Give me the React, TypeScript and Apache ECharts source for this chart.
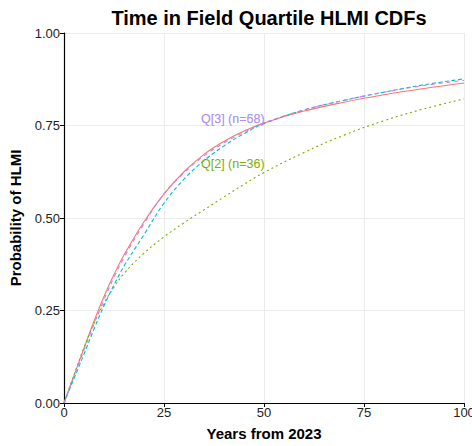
import React, { useEffect, useRef } from "react";
import * as echarts from "echarts";

const years = [0, 2.5, 5, 7.5, 10, 12.5, 15, 20, 25, 30, 35, 40, 45, 50, 60, 70, 80, 90, 100];
const q1 = [0, 0.074, 0.148, 0.221, 0.288, 0.347, 0.4, 0.49, 0.565, 0.625, 0.672, 0.707, 0.735, 0.757, 0.789, 0.813, 0.833, 0.85, 0.865];
const q2 = [0, 0.076, 0.15, 0.215, 0.27, 0.313, 0.35, 0.405, 0.449, 0.487, 0.522, 0.557, 0.591, 0.623, 0.677, 0.724, 0.763, 0.795, 0.822];
const q3 = [0, 0.066, 0.132, 0.2, 0.263, 0.319, 0.37, 0.455, 0.54, 0.605, 0.655, 0.695, 0.728, 0.755, 0.792, 0.818, 0.84, 0.86, 0.876];
const q4 = [0, 0.072, 0.143, 0.213, 0.28, 0.34, 0.393, 0.485, 0.565, 0.622, 0.668, 0.703, 0.732, 0.757, 0.792, 0.818, 0.84, 0.858, 0.872];

const xTicks = [0, 25, 50, 75, 100];
const labelTexts = ["Q[3] (n=58)", "Q[3] (n=68)", "Q[2] (n=36)"];
const labelPos: [number, number][] = [[42.2, 0.768], [42.2, 0.768], [42.2, 0.646]];

const colors = ["#F8766D", "#7CAE00", "#00BFC4", "#C77CFF"];
const FONT = "Liberation Sans, Arial, Helvetica, sans-serif";

export default function App() {
  const ref = useRef<HTMLDivElement>(null);
  useEffect(() => {
    document.body.style.margin = "0";
    const chart = echarts.init(ref.current!, null, { renderer: "svg" });
    const mk = (v: number[]) => years.map((x, i) => [x, v[i]]);
    const lineSeries = (name: string, v: number[], color: string, type: any) => ({
      name,
      type: "line",
      data: mk(v),
      smooth: 0.4,
      showSymbol: false,
      symbol: "none",
      lineStyle: { color, width: 1.1, type },
      z: 3,
    });
    const labelSeries = (i: number, color: string, opacity: number) => ({
      type: "scatter",
      data: [labelPos[i]],
      symbolSize: 0,
      silent: true,
      z: 5,
      label: {
        show: true,
        position: "inside",
        formatter: labelTexts[i],
        color,
        opacity,
        fontSize: 12.5,
        fontFamily: FONT,
      },
    });
    chart.setOption({
      animation: false,
      title: {
        text: "Time in Field Quartile HLMI CDFs",
        left: 264,
        textAlign: "center",
        top: 3,
        textStyle: { fontSize: 20, fontWeight: "bold", color: "#000", fontFamily: FONT },
      },
      grid: { left: 64, right: 8, top: 33, bottom: 43, containLabel: false, outerBoundsMode: "none" },
      xAxis: {
        type: "value",
        min: 0,
        max: 100,
        interval: 25,
        name: "Years from 2023",
        nameLocation: "middle",
        nameGap: 23,
        nameTextStyle: { fontSize: 15, fontWeight: "bold", color: "#000", fontFamily: FONT },
        axisLine: { show: true, onZero: false, lineStyle: { color: "#000", width: 1.2 } },
        axisTick: { show: true, length: 4, lineStyle: { color: "#000" } },
        axisLabel: {
          color: "#222",
          fontSize: 13,
          fontFamily: FONT,
          margin: 3,
          formatter: (v: number) => (xTicks.includes(v) ? String(v) : ""),
        },
        splitLine: { show: true, lineStyle: { color: "#ebebeb", width: 1 } },
      },
      yAxis: {
        type: "value",
        min: 0,
        max: 1,
        interval: 0.25,
        name: "Probability of HLMI",
        nameLocation: "middle",
        nameGap: 41,
        nameTextStyle: { fontSize: 15, fontWeight: "bold", color: "#000", fontFamily: FONT },
        axisLine: { show: true, onZero: false, lineStyle: { color: "#000", width: 1.2 } },
        axisTick: { show: true, length: 4, lineStyle: { color: "#000" } },
        axisLabel: {
          color: "#222",
          fontSize: 13,
          fontFamily: FONT,
          margin: 4,
          formatter: (v: number) => v.toFixed(2),
        },
        splitLine: { show: true, lineStyle: { color: "#ebebeb", width: 1 } },
      },
      series: [
        lineSeries("Q[1]", q1, colors[0], "solid"),
        lineSeries("Q[2]", q2, colors[1], [2, 3]),
        lineSeries("Q[3]", q3, colors[2], [4, 2.5]),
        lineSeries("Q[4]", q4, colors[3], [4, 4]),
        labelSeries(0, colors[2], 0.55),
        labelSeries(1, colors[3], 0.85),
        labelSeries(2, colors[1], 1),
      ],
    });
    return () => chart.dispose();
  }, []);
  return <div ref={ref} style={{ width: 472, height: 446 }} />;
}
